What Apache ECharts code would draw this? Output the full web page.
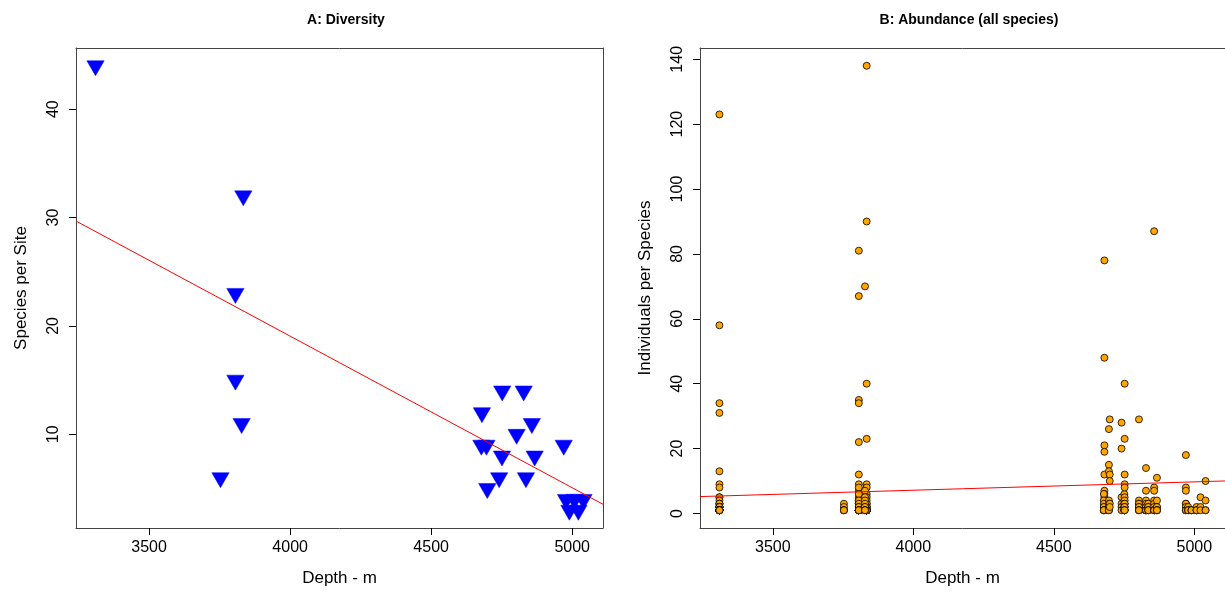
<!DOCTYPE html>
<html>
<head>
<meta charset="utf-8">
<script src="https://cdn.jsdelivr.net/npm/echarts@6/dist/echarts.min.js"></script>
<style>
html,body{margin:0;padding:0;background:#fff;}
#chart{width:1225px;height:595px;}
</style>
</head>
<body>
<div id="chart"></div>
<script>
// ---- Data ----
const siteDepth   = [3310, 3753, 3806, 3806, 3834, 3828, 4680, 4678, 4696, 4699, 4741, 4751, 4752, 4803, 4828, 4836, 4857, 4867, 4970, 4978, 4990, 5008, 5022, 5040];
const siteSpecies = [44,   6,    23,   15,   32,   11,   12,   9,    9,    5,    6,    8,    14,   10,   14,   6,    11,   8,    9,    4,    3,    4,    3,    4];

// individuals per species, one list per site (same order as siteDepth)
const abundanceBySite = [
  [123,58,34,31,13,9,8,5,5,4,3,3,3,2,2,2,2,2,2,1,1,1,1,1,1,1,1,1,1,1,1,1,1,1,1,1,1,1,1,1,1,1,1,1],
  [3,2,1,1,1,1],
  [81,35,22,9,7,5,4,3,3,2,2,2,1,1,1,1,1,1,1,1,1,1,1],
  [67,34,12,8,6,4,3,2,2,1,1,1,1,1,1],
  [138,90,40,23,9,8,6,5,4,3,3,2,2,2,1,1,1,1,1,1,1,1,1,1,1,1,1,1,1,1,1,1],
  [70,7,5,4,3,2,2,1,1,1,1],
  [78,48,21,19,12,7,6,5,4,3,2,1],
  [6,4,3,2,2,1,1,1,1],
  [26,15,13,4,3,2,1,1,1],
  [29,12,10,3,2],
  [28,20,5,3,2,1],
  [6,4,3,2,2,1,1,1],
  [40,23,12,9,8,5,4,3,3,2,2,1,1,1],
  [29,4,3,3,2,2,1,1,1,1],
  [14,7,4,3,2,2,1,1,1,1,1,1,1,1],
  [3,2,2,1,1,1],
  [87,8,7,4,3,2,1,1,1,1,1],
  [11,4,2,2,1,1,1,1],
  [18,8,7,3,3,2,1,1,1],
  [2,1,1,1],
  [1,1,1],
  [2,1,1,1],
  [5,2,1],
  [10,4,1,1]
];

// fitted regression lines (intercept, slope)
const fitA = [75.0, -0.013985];
const fitB = [-3.16, 0.00258];

const xTicks  = [3500, 4000, 4500, 5000];
const yTicksA = [10, 20, 30, 40];
const yTicksB = [0, 20, 40, 60, 80, 100, 120, 140];

const titles = ['A: Diversity', 'B: Abundance (all species)'];
const xName = 'Depth - m';
const yNameA = 'Species per Site';
const yNameB = 'Individuals per Species';

// ---- Build ----
function padRange(vals) {
  const mn = Math.min(...vals), mx = Math.max(...vals);
  const p = (mx - mn) * 0.04;
  return [mn - p, mx + p];
}
const xr = padRange(siteDepth);
const yrA = padRange(siteSpecies);
const allAb = abundanceBySite.flat();
const yrB = padRange(allAb);

const ptsA = siteDepth.map((d, i) => [d, siteSpecies[i]]);
const ptsB = [];
abundanceBySite.forEach((list, i) => list.forEach(v => ptsB.push([siteDepth[i], v])));

const lineA = [[xr[0], fitA[0] + fitA[1] * xr[0]], [xr[1], fitA[0] + fitA[1] * xr[1]]];
const lineB = [[xr[0], fitB[0] + fitB[1] * xr[0]], [xr[1], fitB[0] + fitB[1] * xr[1]]];

const FONT = 'Liberation Sans, Arial, Helvetica, sans-serif';
const BOX = '#444';
const plain = v => String(Math.round(v));

function xAxisCfg(gi) {
  return {
    gridIndex: gi, type: 'value', min: xr[0], max: xr[1], position: 'bottom',
    name: xName, nameLocation: 'middle', nameGap: 42,
    nameTextStyle: { fontFamily: FONT, fontSize: 17, color: '#000' },
    axisLine: { show: true, onZero: false, lineStyle: { color: BOX, width: 1 } },
    axisTick: { show: true, length: 7, customValues: xTicks, lineStyle: { color: '#000' } },
    axisLabel: { customValues: xTicks, formatter: plain, fontFamily: FONT, fontSize: 16, color: '#000', margin: 12 },
    splitLine: { show: false }
  };
}
function xFrame(gi) {
  return {
    gridIndex: gi, type: 'value', min: xr[0], max: xr[1], position: 'top',
    axisLine: { show: true, onZero: false, lineStyle: { color: BOX, width: 1 } },
    axisTick: { show: false }, axisLabel: { show: false }, splitLine: { show: false }
  };
}
function yAxisCfg(gi, yr, ticks, name) {
  return {
    gridIndex: gi, type: 'value', min: yr[0], max: yr[1], position: 'left',
    name: name, nameLocation: 'middle', nameGap: 46, nameRotate: 90,
    nameTextStyle: { fontFamily: FONT, fontSize: 17, color: '#000' },
    axisLine: { show: true, onZero: false, lineStyle: { color: BOX, width: 1 } },
    axisTick: { show: true, length: 7, customValues: ticks, lineStyle: { color: '#000' } },
    axisLabel: { customValues: ticks, formatter: plain, rotate: 90, fontFamily: FONT, fontSize: 16, color: '#000', margin: 14 },
    splitLine: { show: false }
  };
}
function yFrame(gi, yr) {
  return {
    gridIndex: gi, type: 'value', min: yr[0], max: yr[1], position: 'right',
    axisLine: { show: true, onZero: false, lineStyle: { color: BOX, width: 1 } },
    axisTick: { show: false }, axisLabel: { show: false }, splitLine: { show: false }
  };
}

const chart = echarts.init(document.getElementById('chart'), null, { renderer: 'canvas' });
chart.setOption({
  animation: false,
  backgroundColor: '#fff',
  title: [
    { text: titles[0], left: 341, top: 8, textAlign: 'center',
      textStyle: { fontFamily: FONT, fontSize: 14, fontWeight: 'bold', color: '#000' } },
    { text: titles[1], left: 964, top: 8, textAlign: 'center',
      textStyle: { fontFamily: FONT, fontSize: 14, fontWeight: 'bold', color: '#000' } }
  ],
  grid: [
    { left: 76, top: 48, width: 527, height: 480, show: false },
    { left: 700, top: 48, width: 527, height: 480, show: false }
  ],
  xAxis: [xAxisCfg(0), xAxisCfg(1), xFrame(0), xFrame(1)],
  yAxis: [yAxisCfg(0, yrA, yTicksA, yNameA), yAxisCfg(1, yrB, yTicksB, yNameB), yFrame(0, yrA), yFrame(1, yrB)],
  series: [
    { type: 'scatter', xAxisIndex: 0, yAxisIndex: 0, data: ptsA,
      symbol: 'triangle', symbolRotate: 180, symbolSize: [17.3, 15], symbolOffset: [0, 2.5],
      itemStyle: { color: '#0000FF', borderColor: '#0000FF', borderWidth: 0.5, opacity: 1 }, z: 2 },
    { type: 'line', xAxisIndex: 0, yAxisIndex: 0, data: lineA, showSymbol: false, symbol: 'none',
      lineStyle: { color: '#FF0000', width: 1 }, z: 3, silent: true },
    { type: 'scatter', xAxisIndex: 1, yAxisIndex: 1, data: ptsB,
      symbol: 'circle', symbolSize: 7,
      itemStyle: { color: '#FFA500', borderColor: '#000', borderWidth: 0.8, opacity: 1 }, z: 2 },
    { type: 'line', xAxisIndex: 1, yAxisIndex: 1, data: lineB, showSymbol: false, symbol: 'none',
      lineStyle: { color: '#FF0000', width: 1 }, z: 3, silent: true }
  ]
});
</script>
</body>
</html>
